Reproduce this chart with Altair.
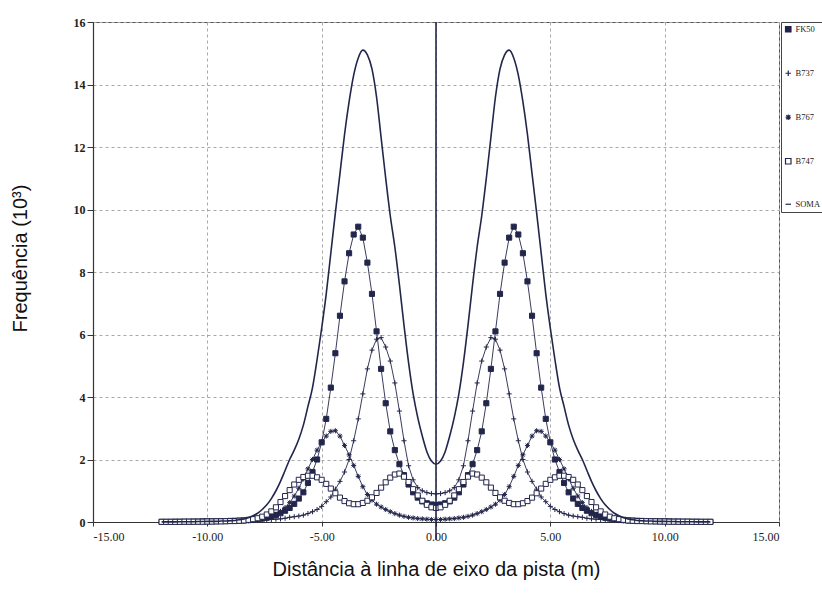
import altair as alt
import pandas as pd

# ---------------- data ----------------
x_m = [
    -12.0, -11.8, -11.6, -11.4, -11.2, -11.0, -10.8, -10.6, -10.4, -10.2,
    -10.0, -9.8, -9.6, -9.4, -9.2, -9.0, -8.8, -8.6, -8.4, -8.2,
    -8.0, -7.8, -7.6, -7.4, -7.2, -7.0, -6.8, -6.6, -6.4, -6.2,
    -6.0, -5.8, -5.6, -5.4, -5.2, -5.0, -4.8, -4.6, -4.4, -4.2,
    -4.0, -3.8, -3.6, -3.4, -3.2, -3.0, -2.8, -2.6, -2.4, -2.2,
    -2.0, -1.8, -1.6, -1.4, -1.2, -1.0, -0.8, -0.6, -0.4, -0.2,
    0.0,
    0.2, 0.4, 0.6, 0.8, 1.0, 1.2, 1.4, 1.6, 1.8, 2.0,
    2.2, 2.4, 2.6, 2.8, 3.0, 3.2, 3.4, 3.6, 3.8, 4.0,
    4.2, 4.4, 4.6, 4.8, 5.0, 5.2, 5.4, 5.6, 5.8, 6.0,
    6.2, 6.4, 6.6, 6.8, 7.0, 7.2, 7.4, 7.6, 7.8, 8.0,
    8.2, 8.4, 8.6, 8.8, 9.0, 9.2, 9.4, 9.6, 9.8, 10.0,
    10.2, 10.4, 10.6, 10.8, 11.0, 11.2, 11.4, 11.6, 11.8, 12.0,
]

fk50 = [
    0.005, 0.005, 0.005, 0.01, 0.01, 0.01, 0.01, 0.015, 0.015, 0.02,
    0.02, 0.02, 0.025, 0.03, 0.03, 0.035, 0.04, 0.045, 0.05, 0.06,
    0.07, 0.09, 0.11, 0.14, 0.17, 0.22, 0.28, 0.36, 0.45, 0.58,
    0.75, 0.95, 1.25, 1.60, 2.00, 2.55, 3.30, 4.30, 5.40, 6.60,
    7.70, 8.60, 9.20, 9.45, 9.10, 8.30, 7.30, 6.10, 4.90, 3.80,
    2.90, 2.30, 1.85, 1.50, 1.20, 0.95, 0.78, 0.66, 0.60, 0.56,
    0.55,
    0.56, 0.60, 0.66, 0.78, 0.95, 1.20, 1.50, 1.85, 2.30, 2.90,
    3.80, 4.90, 6.10, 7.30, 8.30, 9.10, 9.45, 9.20, 8.60, 7.70,
    6.60, 5.40, 4.30, 3.30, 2.55, 2.00, 1.60, 1.25, 0.95, 0.75,
    0.58, 0.45, 0.36, 0.28, 0.22, 0.17, 0.14, 0.11, 0.09, 0.07,
    0.06, 0.05, 0.045, 0.04, 0.035, 0.03, 0.03, 0.025, 0.02, 0.02,
    0.02, 0.015, 0.015, 0.01, 0.01, 0.01, 0.01, 0.005, 0.005, 0.005,
]

b737 = [
    0.005, 0.005, 0.005, 0.005, 0.005, 0.01, 0.01, 0.01, 0.01, 0.01,
    0.015, 0.015, 0.02, 0.02, 0.02, 0.025, 0.03, 0.03, 0.035, 0.04,
    0.045, 0.05, 0.06, 0.07, 0.08, 0.09, 0.10, 0.12, 0.15, 0.17,
    0.19, 0.22, 0.27, 0.33, 0.40, 0.50, 0.65, 0.80, 1.05, 1.30,
    1.60, 2.00, 2.60, 3.30, 4.10, 4.90, 5.50, 5.85, 5.90, 5.60,
    5.15, 4.45, 3.55, 2.60, 1.80, 1.35, 1.10, 1.00, 0.94, 0.91,
    0.90,
    0.91, 0.94, 1.00, 1.10, 1.35, 1.80, 2.60, 3.55, 4.45, 5.15,
    5.60, 5.90, 5.85, 5.50, 4.90, 4.10, 3.30, 2.60, 2.00, 1.60,
    1.30, 1.05, 0.80, 0.65, 0.50, 0.40, 0.33, 0.27, 0.22, 0.19,
    0.17, 0.15, 0.12, 0.10, 0.09, 0.08, 0.07, 0.06, 0.05, 0.045,
    0.04, 0.035, 0.03, 0.03, 0.025, 0.02, 0.02, 0.02, 0.015, 0.015,
    0.01, 0.01, 0.01, 0.01, 0.01, 0.005, 0.005, 0.005, 0.005, 0.005,
]

b767 = [
    0.005, 0.005, 0.005, 0.005, 0.005, 0.005, 0.01, 0.01, 0.01, 0.01,
    0.01, 0.015, 0.015, 0.02, 0.02, 0.025, 0.03, 0.035, 0.04, 0.05,
    0.06, 0.08, 0.10, 0.13, 0.18, 0.25, 0.34, 0.46, 0.62, 0.83,
    1.08, 1.38, 1.70, 2.00, 2.30, 2.55, 2.75, 2.90, 2.92, 2.75,
    2.45, 2.15, 1.81, 1.46, 1.13, 0.88, 0.70, 0.57, 0.48, 0.40,
    0.33, 0.27, 0.22, 0.18, 0.15, 0.13, 0.11, 0.10, 0.09, 0.08,
    0.08,
    0.08, 0.09, 0.10, 0.11, 0.13, 0.15, 0.18, 0.22, 0.27, 0.33,
    0.40, 0.48, 0.57, 0.70, 0.88, 1.13, 1.46, 1.81, 2.15, 2.45,
    2.75, 2.92, 2.90, 2.75, 2.55, 2.30, 2.00, 1.70, 1.38, 1.08,
    0.83, 0.62, 0.46, 0.34, 0.25, 0.18, 0.13, 0.10, 0.08, 0.06,
    0.05, 0.04, 0.035, 0.03, 0.025, 0.02, 0.02, 0.015, 0.015, 0.01,
    0.01, 0.01, 0.01, 0.01, 0.005, 0.005, 0.005, 0.005, 0.005, 0.005,
]

b747 = [
    0.005, 0.005, 0.005, 0.005, 0.005, 0.01, 0.01, 0.01, 0.01, 0.01,
    0.015, 0.015, 0.02, 0.02, 0.025, 0.03, 0.03, 0.04, 0.05, 0.07,
    0.09, 0.12, 0.17, 0.24, 0.34, 0.47, 0.64, 0.83, 1.02, 1.20,
    1.35, 1.44, 1.48, 1.48, 1.43, 1.35, 1.22, 1.07, 0.92, 0.78,
    0.67, 0.60, 0.57, 0.57, 0.61, 0.68, 0.79, 0.93, 1.10, 1.27,
    1.42, 1.52, 1.55, 1.45, 1.28, 1.05, 0.85, 0.68, 0.55, 0.47,
    0.45,
    0.47, 0.55, 0.68, 0.85, 1.05, 1.28, 1.45, 1.55, 1.52, 1.42,
    1.27, 1.10, 0.93, 0.79, 0.68, 0.61, 0.57, 0.57, 0.60, 0.67,
    0.78, 0.92, 1.07, 1.22, 1.35, 1.43, 1.48, 1.48, 1.44, 1.35,
    1.20, 1.02, 0.83, 0.64, 0.47, 0.34, 0.24, 0.17, 0.12, 0.09,
    0.07, 0.05, 0.04, 0.03, 0.03, 0.025, 0.02, 0.02, 0.015, 0.015,
    0.01, 0.01, 0.01, 0.01, 0.01, 0.005, 0.005, 0.005, 0.005, 0.005,
]

soma = [
    0.005, 0.005, 0.005, 0.005, 0.01, 0.01, 0.01, 0.01, 0.015, 0.015,
    0.02, 0.02, 0.02, 0.03, 0.03, 0.04, 0.05, 0.07, 0.10, 0.14,
    0.20, 0.28, 0.40, 0.55, 0.75, 1.00, 1.30, 1.65, 2.00, 2.30,
    2.65, 3.10, 3.70, 4.30, 5.20, 6.20, 7.30, 8.60, 9.90, 11.15,
    12.40, 13.45, 14.30, 14.85, 15.10, 14.95, 14.50, 13.60, 12.30, 11.00,
    9.80, 8.80, 7.60, 6.30, 5.10, 4.10, 3.35, 2.75, 2.25, 1.95,
    1.85,
    1.95, 2.25, 2.75, 3.35, 4.10, 5.10, 6.30, 7.60, 8.80, 9.80,
    11.00, 12.30, 13.60, 14.50, 14.95, 15.10, 14.85, 14.30, 13.45, 12.40,
    11.15, 9.90, 8.60, 7.30, 6.20, 5.20, 4.30, 3.70, 3.10, 2.65,
    2.30, 2.00, 1.65, 1.30, 1.00, 0.75, 0.55, 0.40, 0.28, 0.20,
    0.14, 0.10, 0.07, 0.05, 0.04, 0.03, 0.03, 0.02, 0.02, 0.02,
    0.015, 0.015, 0.01, 0.01, 0.01, 0.01, 0.005, 0.005, 0.005, 0.005,
]

series_names = ["FK50", "B737", "B767", "B747", "SOMA"]
series_values = [fk50, b737, b767, b747, soma]
x_ticks = [-15, -10, -5, 0, 5, 10, 15]
y_ticks = [0, 2, 4, 6, 8, 10, 12, 14, 16]
centre_line = [0.0]

rows = []
for name, vals in zip(series_names, series_values):
    for xv, yv in zip(x_m, vals):
        rows.append({"x": xv, "y": yv, "serie": name})
df = pd.DataFrame(rows)

# ---------------- styling ----------------
NAVY = "#23264b"
W, H = 686, 500
PLUS = "M-1,0L1,0M0,-1L0,1"
STAR = "M-1,0L1,0M0,-1L0,1M-0.72,-0.72L0.72,0.72M-0.72,0.72L0.72,-0.72"

x_enc = alt.X(
    "x:Q",
    scale=alt.Scale(domain=[-15, 15], nice=False, zero=False),
    axis=alt.Axis(
        values=x_ticks,
        labelExpr="datum.value < 0 ? '-' + format(-datum.value, '.2f') : format(datum.value, '.2f')",
        title="Distância à linha de eixo da pista (m)",
        titleY=53,
        titleBaseline="alphabetic",
        labelPadding=5,
        tickSize=4,
    ),
)
y_enc = alt.Y(
    "y:Q",
    scale=alt.Scale(domain=[0, 16], nice=False),
    axis=alt.Axis(
        values=y_ticks,
        format="d",
        title="Frequência (10³)",
        titleAngle=270,
        titleX=-67,
        titleY=236,
        titleAlign="center",
        titleBaseline="alphabetic",
        labelFontWeight="bold",
        labelPadding=2,
        tickSize=6,
    ),
)

stroke_scale = alt.Scale(domain=series_names, range=[NAVY] * 5)
shape_scale = alt.Scale(domain=series_names, range=["square", PLUS, STAR, "square", "stroke"])
fill_scale = alt.Scale(domain=series_names, range=[NAVY, "transparent", "transparent", "white", "transparent"])

base = alt.Chart(df)

thin_lines = base.transform_filter(alt.datum.serie != "SOMA").mark_line(strokeWidth=0.9).encode(
    x=x_enc, y=y_enc,
    stroke=alt.Stroke("serie:N", scale=stroke_scale, title=None),
    detail="serie:N",
)

points = base.transform_filter(alt.datum.serie != "SOMA").mark_point(
    size=26, strokeWidth=1, opacity=1, filled=False
).encode(
    x=x_enc, y=y_enc,
    stroke=alt.Stroke("serie:N", scale=stroke_scale, title=None),
    shape=alt.Shape("serie:N", scale=shape_scale, title=None),
    fill=alt.Fill("serie:N", scale=fill_scale, title=None),
)

total_line = base.transform_filter(alt.datum.serie == "SOMA").mark_line(
    strokeWidth=1.6, interpolate="monotone"
).encode(
    x=x_enc, y=y_enc,
    stroke=alt.Stroke("serie:N", scale=stroke_scale, title=None),
)

centre = alt.Chart(pd.DataFrame({"x": centre_line})).mark_rule(color=NAVY, strokeWidth=1.6).encode(
    x="x:Q", y=alt.value(0), y2=alt.value(H + 18)
)

chart = (
    alt.layer(thin_lines, points, total_line, centre)
    .properties(
        width=W,
        height=H,
        autosize=alt.AutoSizeParams(type="none"),
        padding={"left": 93, "top": 22, "right": 43, "bottom": 77},
        background="white",
    )
    .configure_view(stroke="#555", strokeWidth=1)
    .configure_axis(
        domainColor="#333",
        domainWidth=1.2,
        tickColor="#333",
        labelFont="Liberation Serif",
        labelFontSize=12,
        labelColor="#222",
        grid=True,
        gridColor="#a8a8a8",
        gridDash=[3, 3],
        gridWidth=1,
        titleFont="Liberation Sans",
        titleFontSize=20,
        titleFontWeight="normal",
        titleColor="#111",
    )
    .configure_legend(
        orient="none",
        legendX=688,
        legendY=0,
        fillColor="white",
        strokeColor="#444",
        padding=3,
        rowPadding=33,
        labelFont="Liberation Serif",
        labelFontSize=8.5,
        labelColor="#222",
        symbolSize=30,
        symbolStrokeWidth=1.2,
        labelOffset=3,
    )
)

chart.save("out.html", embed_options={"renderer": "svg", "actions": False})
